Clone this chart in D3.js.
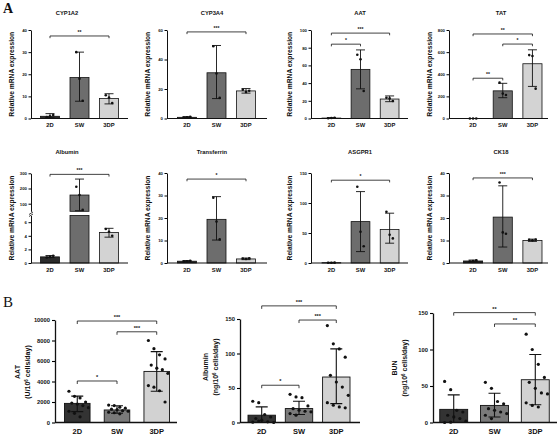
<!DOCTYPE html>
<html><head><meta charset="utf-8">
<script src="https://cdn.jsdelivr.net/npm/d3@7"></script>
<style>
body{margin:0;background:#fff}
svg{display:block}
text{font-family:"Liberation Sans",Arial,sans-serif;font-weight:bold;fill:#111}
</style>
</head><body>
<svg id="c" width="557" height="437"></svg>
<script>
// ---------- DATA ----------
const groups = ["2D", "SW", "3DP"];

// Panel A (relative mRNA expression)
const aTitles = ["CYP1A2", "CYP3A4", "AAT", "TAT", "Albumin", "Transferrin", "ASGPR1", "CK18"];
const aMax = [40, 60, 100, 800, 300, 40, 150, 40];
const aTicks = [[0,10,20,30,40],[0,20,40,60],[0,20,40,60,80,100],[0,200,400,600,800],
                [100,200,300],[0,10,20,30,40],[0,50,100,150],[0,10,20,30,40]];
const albLowerTicks = [0, 2, 4, 6];
const albLowerMax = 7;
const albUpperMin = 50;
const aMeans = [[1.0,18.5,9.0],[0.8,31,18.7],[0.5,55.5,22],[0,250,495],
                [0.9,157,4.5],[0.8,19.4,1.8],[0.5,69,56],[0.9,20.4,10]];
const aLow = [[0.3,7.8,6.6],[0.4,13.5,17.2],[0.1,33.5,19],[0,188,290],
              [0.8,54,3.8],[0.5,10.2,1.5],[0.1,19,33],[0.5,7.1,9.6]];
const aHigh = [[2.2,30,11.2],[1.3,49.5,20.3],[1,77.5,25.5],[0,318,621],
               [1.1,262,5.1],[1.1,29.5,2.2],[1,119,83],[1.3,34.3,10.6]];
const aDots = [
  [[0.6,1.0,1.6],[30,18,8],[10.5,9.5,7]],
  [[0.5,0.8,1.1],[49,30.5,14],[19.5,18,18.8]],
  [[0.3,0.5,0.8],[72,67,31],[23.5,22.7,19.7]],
  [[0,0,0],[324,225,212],[573,565,270]],
  [[0.8,0.9,1.05],[212,157,60],[5,4.6,4]],
  [[0.6,0.8,1.0],[29,18.4,10.5],[2,1.8,2.1]],
  [[0.4,0.5,0.6],[127,52,28],[85.5,47,41]],
  [[0.6,0.9,1.2],[35.8,13.6,13],[10.3,10.1,10.4]]
];
const aSigPairs = [[[0,2]],[[0,2]],[[0,2],[0,1]],[[0,2],[1,2],[0,1]],[[0,2]],[[0,2]],[[0,2]],[[0,2]]];
const aSigLevels = [[37.3],[58.7],[96.5,84],[764,673,364],[293],[37.3],[138],[37.8]];
const aSigLabels = [["**"],["***"],["***","*"],["**","*","**"],["***"],["*"],["*"],["***"]];
const aYLabel = "Relative mRNA expression";

// Panel B (secretion)
const bNames = ["AAT", "Albumin", "BUN"];
const bUnitPre = ["(U/10", "(ng/10", "(ng/10"];
const bUnitExp = "6";
const bUnitPost = " cells/day)";
const bMax = [10000, 150, 150];
const bTicks = [[0,2000,4000,6000,8000,10000],[0,50,100,150],[0,50,100,150]];
const bMeans = [[1865,1222,4984],[10.6,20.2,65.9],[18,23.4,58.6]];
const bLow = [[1061,900,3055],[0,11.5,27.4],[0,7.6,24.3]];
const bHigh = [[2572,1640,6913],[22.6,30.8,106.7],[37.8,40,93.2]];
const bDots = [
  [[3050,2550,2400,2000,1900,1800,1650,1450,1100,900,550],
   [1700,1650,1500,1400,1300,1250,1150,1100,1000,950,850],
   [8000,7200,6600,6200,5600,5300,5150,4800,3600,3450,3100,2000]],
  [[30.8,28.8,11.5,8,5.8,3.4,1,0,0.5,2],
   [40.9,37,36,24,20,17.8,16.3,15.4,13,10.6],
   [140.4,114,106.7,94.7,68.3,58.7,51.4,39.4,28.8,25,22.6,21.2]],
  [[56.3,45,16.7,14.4,9.9,7.6,5.4,1.8,0,0.5],
   [55,46.8,28.8,25.7,19,16.7,14.4,12.2,9.9,5.4],
   [121,100,79.7,61.7,55,46.8,40.5,39.2,27,23.4,21.2]]
];
const bSigPairs = [[[0,2],[1,2],[0,1]],[[0,2],[1,2],[0,1]],[[0,2],[1,2]]];
const bSigLevels = [[9900,8850,4050],[169,148.5,54],[150.5,135]];
const bSigLabels = [["***","***","*"],["***","***","*"],["**","**"]];

// ---------- COLOURS ----------
const aFill = {"2D":"#2b2b2b","SW":"#6d6d6d","3DP":"#d3d3d3"};
const bFill = {"2D":"#333333","SW":"#7a7a7a","3DP":"#d2d2d2"};

const svg = d3.select("#c");
const intFmt = d3.format("d");

// panel letters
svg.append("text").attr("x",3).attr("y",13).text("A")
  .style("font-family","'Liberation Serif','DejaVu Serif',serif").style("font-size","14px").style("font-weight","bold");
svg.append("text").attr("x",3).attr("y",307).text("B")
  .style("font-family","'Liberation Serif','DejaVu Serif',serif").style("font-size","15px").style("font-weight","normal");

// ---------- PANEL A ----------
const colAxisX = [31,167,311,449];
const colBand = [[40.5,118.5],[177.5,255.5],[322,399],[463.5,542]];
const colAxisEnd = [128,267,408,548];
const colTitleX = [67,212,360,501];
const colYLabX = [12,148,290,430];
const rowTop = [30,173], rowZero = [118.5,263], rowTitleY = [15,154], rowXLabY = [129,274];

function bracket(g, x1, x2, yy, label, tick, fs) {
  g.append("path").attr("d",`M${x1},${yy+tick}V${yy}H${x2}V${yy+tick}`)
    .attr("fill","none").attr("stroke","#111").attr("stroke-width",0.8);
  g.append("text").attr("x",(x1+x2)/2).attr("y",yy-2).attr("text-anchor","middle")
    .style("font-size",fs+"px").text(label);
}

aTitles.forEach((title, k) => {
  const col = k % 4, row = Math.floor(k / 4);
  const g = svg.append("g");
  const x = d3.scaleBand().domain(groups).range(colBand[col]).paddingInner(0.356).paddingOuter(0);
  const bw = x.bandwidth();
  const ax = colAxisX[col];
  const isAlb = (k === 4);
  let yLo, yHi, yFn;
  if (isAlb) {
    yLo = d3.scaleLinear().domain([0, albLowerMax]).range([263, 215.4]);
    yHi = d3.scaleLinear().domain([albUpperMin, aMax[k]]).range([211.3, 173.3]);
    yFn = v => v <= albLowerMax ? yLo(v) : (v >= albUpperMin ? yHi(v) : null);
  } else {
    yLo = d3.scaleLinear().domain([0, aMax[k]]).range([rowZero[row], rowTop[row]]);
    yFn = yLo;
  }

  g.append("text").attr("x",colTitleX[col]).attr("y",rowTitleY[row]).attr("text-anchor","middle")
    .style("font-size","5.8px").text(title);
  g.append("text").attr("transform",`translate(${colYLabX[col]},${(rowTop[row]+rowZero[row])/2}) rotate(-90)`)
    .attr("text-anchor","middle").attr("dy","0.35em").style("font-size","6.7px").text(aYLabel);

  groups.forEach((gr, i) => {
    const v = aMeans[k][i];
    const cx = x(gr);
    if (isAlb) {
      const lowTop = yLo(Math.min(v, albLowerMax));
      g.append("rect").attr("x",cx).attr("y",lowTop).attr("width",bw).attr("height",yLo(0)-lowTop)
        .attr("fill",aFill[gr]).attr("stroke","#111").attr("stroke-width",0.8);
      if (v > albUpperMin) {
        g.append("rect").attr("x",cx).attr("y",yHi(v)).attr("width",bw).attr("height",yHi(albUpperMin)-yHi(v))
          .attr("fill",aFill[gr]).attr("stroke","#111").attr("stroke-width",0.8);
      }
    } else {
      g.append("rect").attr("x",cx).attr("y",yLo(v)).attr("width",bw).attr("height",Math.max(0,yLo(0)-yLo(v)))
        .attr("fill",aFill[gr]).attr("stroke","#111").attr("stroke-width",0.8);
    }
    const mx = cx + bw/2;
    const yl = yFn(aLow[k][i]), yh = yFn(aHigh[k][i]);
    if (yl != null && yh != null) {
      g.append("path").attr("d",`M${mx},${yl}V${yh}M${mx-4.5},${yh}H${mx+4.5}M${mx-4.5},${yl}H${mx+4.5}`)
        .attr("stroke","#111").attr("stroke-width",0.9).attr("fill","none");
    }
    aDots[k][i].forEach((d, j) => {
      const yy = yFn(d);
      if (yy == null) return;
      g.append("circle").attr("cx",mx + (j - 1) * 3.2).attr("cy",yy).attr("r",1.3).attr("fill","#111");
    });
  });

  if (isAlb) {
    const aL = d3.axisLeft(yLo).tickValues(albLowerTicks).tickFormat(intFmt).tickSize(2.5).tickPadding(1.5).tickSizeOuter(0);
    const aH = d3.axisLeft(yHi).tickValues(aTicks[k]).tickFormat(intFmt).tickSize(2.5).tickPadding(1.5).tickSizeOuter(0);
    const gl = g.append("g").attr("transform",`translate(${ax},0)`).call(aL);
    const gh = g.append("g").attr("transform",`translate(${ax},0)`).call(aH);
    [gl, gh].forEach(a => {
      a.selectAll("text").style("font-size","4.3px");
      a.select(".domain").attr("stroke","#111");
    });
    g.append("path").attr("d",`M${ax-2},${214.5}L${ax+2},${212}M${ax-2},${216.5}L${ax+2},${214}`)
      .attr("stroke","#111").attr("stroke-width",0.8);
  } else {
    const aY = d3.axisLeft(yLo).tickValues(aTicks[k]).tickFormat(intFmt).tickSize(2.5).tickPadding(1.5).tickSizeOuter(0);
    const ga = g.append("g").attr("transform",`translate(${ax},0)`).call(aY);
    ga.selectAll("text").style("font-size","4.3px");
    ga.select(".domain").attr("stroke","#111");
  }
  g.append("line").attr("x1",ax).attr("x2",colAxisEnd[col]).attr("y1",rowZero[row]).attr("y2",rowZero[row])
    .attr("stroke","#111").attr("stroke-width",1);
  const xa = g.append("g").attr("transform",`translate(0,${rowXLabY[row]-6})`)
    .call(d3.axisBottom(x).tickSize(0).tickPadding(0));
  xa.select(".domain").remove();
  xa.selectAll("text").style("font-size","5.8px");

  aSigPairs[k].forEach((p, s) => {
    const x1 = x(groups[p[0]]) + bw/2, x2 = x(groups[p[1]]) + bw/2;
    bracket(g, x1, x2, yFn(aSigLevels[k][s]), aSigLabels[k][s], 2.2, 5);
  });
});

// ---------- PANEL B ----------
const bAxisX = [55,240,433];
const bBand = [[64.5,169.5],[248,350],[439.75,549.25]];
const bPad = [0.357,0.265,0.315];
const bAxisEnd = [177,360,557];
const bTop = [320,319,313];
const bZero = 422.5;
const bLabX = [[18,28],[206,216],[395,405]];
const bLabCY = [372,367,368];

bNames.forEach((nm, k) => {
  const g = svg.append("g");
  const x = d3.scaleBand().domain(groups).range(bBand[k]).paddingInner(bPad[k]).paddingOuter(0);
  const bw = x.bandwidth();
  const y = d3.scaleLinear().domain([0, bMax[k]]).range([bZero, bTop[k]]);
  const ax = bAxisX[k];

  g.append("text").attr("transform",`translate(${bLabX[k][0]},${bLabCY[k]}) rotate(-90)`)
    .attr("text-anchor","middle").attr("dy","0.35em").style("font-size","7px").text(nm);
  const t2 = g.append("text").attr("transform",`translate(${bLabX[k][1]},${bLabCY[k]}) rotate(-90)`)
    .attr("text-anchor","middle").attr("dy","0.35em").style("font-size","7px");
  t2.append("tspan").text(bUnitPre[k]);
  t2.append("tspan").attr("dy","-2.5").style("font-size","4.5px").text(bUnitExp);
  t2.append("tspan").attr("dy","2.5").text(bUnitPost);

  groups.forEach((gr, i) => {
    const v = bMeans[k][i];
    const cx = x(gr), mx = cx + bw/2;
    g.append("rect").attr("x",cx).attr("y",y(v)).attr("width",bw).attr("height",bZero - y(v))
      .attr("fill",bFill[gr]).attr("stroke","#111").attr("stroke-width",0.9);
    bDots[k][i].forEach((d, j) => {
      const c = j % 4, r = Math.floor(j / 4);
      const off = (c - 1.5) * (bw / 4.6) + (r % 2 ? bw / 9 : 0);
      g.append("circle").attr("cx", mx + off).attr("cy", y(d)).attr("r",1.6).attr("fill","#111");
    });
    const yl = y(bLow[k][i]), yh = y(bHigh[k][i]);
    g.append("path").attr("d",`M${mx},${yl}V${yh}M${mx-6},${yh}H${mx+6}M${mx-6},${yl}H${mx+6}`)
      .attr("stroke","#111").attr("stroke-width",1.1).attr("fill","none");
  });

  const ay = d3.axisLeft(y).tickValues(bTicks[k]).tickFormat(intFmt).tickSize(3).tickPadding(2).tickSizeOuter(0);
  const ga = g.append("g").attr("transform",`translate(${ax},0)`).call(ay);
  ga.selectAll("text").style("font-size","5.8px");
  ga.select(".domain").attr("stroke","#111").attr("stroke-width",1.3);
  ga.selectAll(".tick line").attr("stroke-width",1.1);
  g.append("line").attr("x1",ax).attr("x2",bAxisEnd[k]).attr("y1",bZero).attr("y2",bZero)
    .attr("stroke","#111").attr("stroke-width",1.3);
  const xa = g.append("g").attr("transform",`translate(0,${429})`)
    .call(d3.axisBottom(x).tickSize(0).tickPadding(0));
  xa.select(".domain").remove();
  xa.selectAll("text").style("font-size","7.5px");

  bSigPairs[k].forEach((p, s) => {
    const x1 = x(groups[p[0]]) + bw/2, x2 = x(groups[p[1]]) + bw/2;
    bracket(g, x1, x2, y(bSigLevels[k][s]), bSigLabels[k][s], 3, 5.5);
  });
});
</script>
</body></html>
